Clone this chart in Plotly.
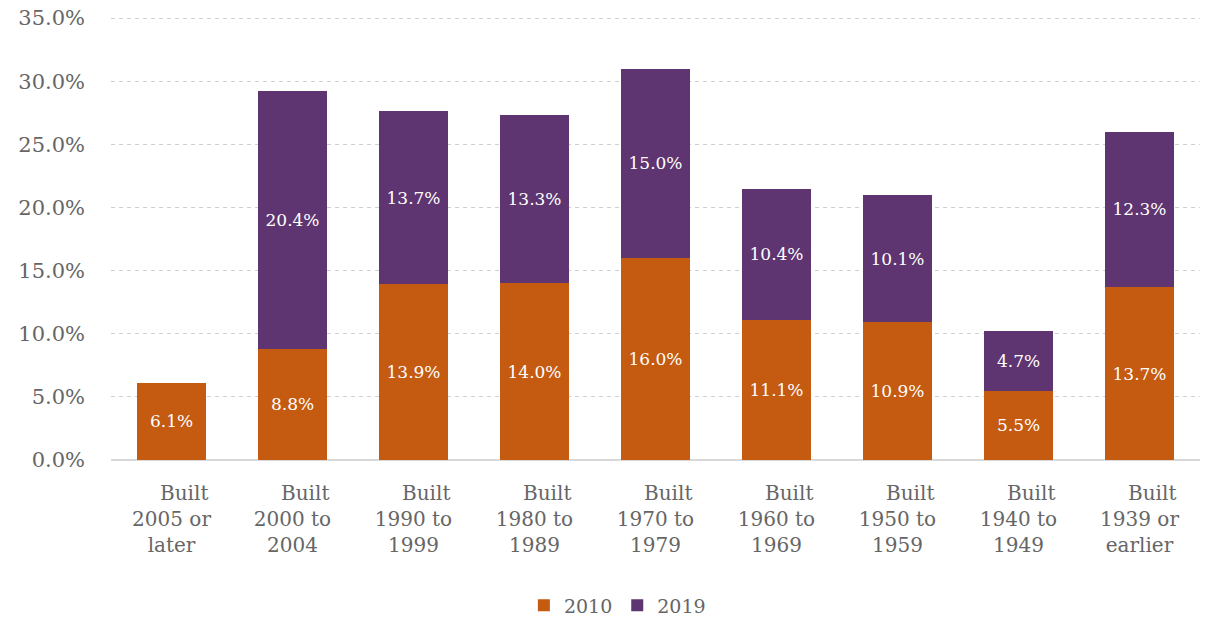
import plotly.graph_objects as go

categories = [
    "\u00a0\u00a0\u00a0\u00a0Built<br>2005 or<br>later",
    "\u00a0\u00a0\u00a0\u00a0Built<br>2000 to<br>2004",
    "\u00a0\u00a0\u00a0\u00a0Built<br>1990 to<br>1999",
    "\u00a0\u00a0\u00a0\u00a0Built<br>1980 to<br>1989",
    "\u00a0\u00a0\u00a0\u00a0Built<br>1970 to<br>1979",
    "\u00a0\u00a0\u00a0\u00a0Built<br>1960 to<br>1969",
    "\u00a0\u00a0\u00a0\u00a0Built<br>1950 to<br>1959",
    "\u00a0\u00a0\u00a0\u00a0Built<br>1940 to<br>1949",
    "\u00a0\u00a0\u00a0\u00a0Built<br>1939 or<br>earlier",
]
values_2010 = [6.1, 8.8, 13.9, 14.0, 16.0, 11.1, 10.9, 5.5, 13.7]
values_2019 = [None, 20.4, 13.7, 13.3, 15.0, 10.4, 10.1, 4.7, 12.3]
y_ticks = [0, 5, 10, 15, 20, 25, 30, 35]

FONT = "DejaVu Serif"
GRAY = "#666666"

def labels(vals):
    return ["" if v is None else f"{v:.1f}%" for v in vals]

fig = go.Figure()
fig.add_trace(go.Bar(
    name="2010", x=categories, y=values_2010,
    marker=dict(color="#C55A11", line=dict(width=0)),
    text=labels(values_2010), textposition="inside", insidetextanchor="middle",
    textangle=0, constraintext="none",
    textfont=dict(color="white", size=17, family=FONT),
))
fig.add_trace(go.Bar(
    name="2019", x=categories, y=values_2019,
    marker=dict(color="#5E3570", line=dict(width=0)),
    text=labels(values_2019), textposition="inside", insidetextanchor="middle",
    textangle=0, constraintext="none",
    textfont=dict(color="white", size=17, family=FONT),
))

fig.update_layout(
    barmode="stack",
    bargap=0.43,
    width=1211, height=619,
    margin=dict(l=111, r=11, t=15, b=159, autoexpand=False),
    paper_bgcolor="white", plot_bgcolor="white",
    font=dict(family=FONT, color=GRAY, size=18),
    showlegend=True,
    legend=dict(orientation="h", x=0.465, xanchor="center", y=-0.327, yanchor="middle",
                font=dict(size=19, color=GRAY, family=FONT), itemwidth=30,
                traceorder="normal"),
    xaxis=dict(showgrid=False, showline=False, ticks="", tickangle=0,
               automargin=False, ticklabelstandoff=19,
               tickfont=dict(size=20, color=GRAY, family=FONT)),
    yaxis=dict(range=[0, 35.24], tickvals=y_ticks,
               ticktext=[f"{t:.1f}%" for t in y_ticks],
               showgrid=True, gridcolor="#cfcfcf", griddash="4px,4px", gridwidth=1,
               zeroline=True, zerolinecolor="#d9d9d9", zerolinewidth=2,
               showline=False, ticks="", ticklabelstandoff=25, automargin=False,
               tickfont=dict(size=21, color=GRAY, family=FONT)),
)

fig.write_html("out.html", config={"displayModeBar": False},
               post_script="document.body.style.margin='0';")
